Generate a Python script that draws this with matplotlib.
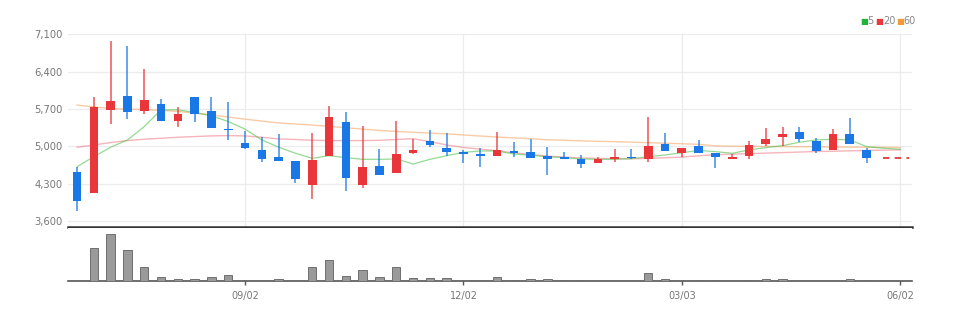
import numpy as np
import matplotlib
matplotlib.use("Agg")
import matplotlib.pyplot as plt

plt.rcParams['font.family'] = ['Liberation Sans Narrow', 'DejaVu Sans']

# weekly candles (price in won)
opens = [4530, 4120, 5673, 5936, 5662, 5800, 5474, 5917, 5662, 5330,
         5070, 4928, 4805, 4727, 4270, 4821, 5461, 4282, 4628, 4505,
         4884, 5103, 4977, 4903, 4853, 4827, 4915, 4903, 4827, 4808,
         4765, 4690, 4759, 4808, 4765, 5053, 4883, 5009, 4872, 4771,
         4827, 5053, 5179, 5273, 5109, 4934, 5235, 4928]
closes = [3980, 5740, 5850, 5649, 5861, 5474, 5598, 5611, 5353, 5300,
          4966, 4760, 4725, 4395, 4740, 5549, 4408, 4620, 4470, 4867,
          4941, 5028, 4897, 4865, 4827, 4934, 4883, 4784, 4759, 4771,
          4671, 4759, 4808, 4778, 5009, 4921, 4966, 4883, 4797, 4797,
          5034, 5141, 5241, 5141, 4915, 5235, 5047, 4784]
highs = [4610, 5920, 6965, 6876, 6451, 5890, 5737, 5920, 5925, 5840,
         5280, 5185, 5240, 4730, 5248, 5750, 5643, 5391, 4960, 5467,
         5147, 5305, 5248, 4934, 4966, 5273, 5080, 5141, 4990, 4897,
         4834, 4797, 4953, 4953, 5549, 5248, 4975, 5117, 4880, 4859,
         5110, 5348, 5373, 5361, 5165, 5329, 5541, 4966]
lows = [3790, 4120, 5417, 5511, 5598, 5470, 5361, 5461, 5353, 5120,
        4960, 4714, 4720, 4320, 4007, 4821, 4163, 4220, 4470, 4505,
        4859, 4996, 4827, 4695, 4620, 4827, 4797, 4780, 4464, 4759,
        4590, 4690, 4709, 4759, 4714, 4921, 4797, 4880, 4590, 4771,
        4759, 5009, 5009, 5085, 4883, 4934, 5047, 4684]
last_price = 4784

volumes = [0.3, 32.7, 47.0, 31.0, 14.0, 3.7, 2.0, 2.0, 3.7, 6.3,
           0.7, 0.7, 2.0, 1.0, 14.0, 21.3, 5.3, 11.3, 4.0, 14.0,
           2.7, 3.3, 2.7, 0.7, 0.7, 3.7, 1.3, 1.7, 2.3, 0.7,
           0.7, 0.2, 0.7, 0.7, 7.7, 1.7, 0.7, 0.7, 0.7, 0.2,
           0.7, 1.7, 1.7, 0.7, 0.7, 0.7, 2.3, 0.7]

ma5 = [4620, 4810, 4985, 5122, 5372, 5686, 5686, 5635, 5573, 5466,
       5323, 5122, 4985, 4872, 4778, 4827, 4790, 4759, 4759, 4765,
       4671, 4759, 4827, 4890, 4915, 4915, 4859, 4834, 4808, 4790,
       4765, 4759, 4759, 4771, 4808, 4840, 4883, 4925, 4903, 4872,
       4934, 4978, 5015, 5079, 5122, 5134, 5122, 4997, 4966, 4947]
ma20 = [4985, 5028, 5072, 5110, 5135, 5153, 5172, 5185, 5197, 5203,
        5197, 5172, 5141, 5130, 5115, 5110, 5110, 5110, 5115, 5130,
        5145, 5090, 5028, 4980, 4950, 4920, 4880, 4850, 4820, 4800,
        4785, 4775, 4770, 4770, 4775, 4790, 4800, 4825, 4845, 4855,
        4865, 4875, 4885, 4895, 4905, 4910, 4918, 4925, 4930, 4935]
ma60 = [5775, 5740, 5710, 5700, 5690, 5675, 5655, 5625, 5590, 5550,
        5510, 5475, 5440, 5420, 5400, 5375, 5350, 5325, 5300, 5280,
        5265, 5250, 5235, 5215, 5195, 5175, 5160, 5145, 5125, 5115,
        5105, 5095, 5090, 5080, 5070, 5060, 5050, 5040, 5010, 5005,
        5000, 5000, 4998, 4995, 4992, 4990, 4988, 4985, 4982, 4980]

price_ticks = [3600, 4300, 5000, 5700, 6400, 7100]
date_ticks = [10, 23, 36, 49]
date_labels = ['09/02', '12/02', '03/03', '06/02']

RED = '#e8363b'
BLUE = '#1a78e6'
GRID = '#ececec'
TXT = '#777777'


def draw_candles(ax):
    x = np.arange(len(opens))
    o = np.array(opens)
    c = np.array(closes)
    colors = [RED if cc >= oo else BLUE for oo, cc in zip(o, c)]
    ax.vlines(x, lows, highs, colors=colors, lw=1.1, alpha=0.85, zorder=3)
    body = np.maximum(np.abs(c - o), 25)
    ax.bar(x, body, bottom=np.minimum(o, c), width=0.52, color=colors,
           zorder=4, linewidth=0)
    ax.hlines(last_price, len(opens), len(opens) + 1.5, colors=RED,
              lw=1.3, linestyles=(0, (3.5, 3)), zorder=4)


def draw_ma(ax):
    x = np.arange(len(ma5))
    ax.plot(x, ma60, color='#f5a05a', lw=1.0, alpha=0.55, zorder=2)
    ax.plot(x, ma20, color='#ee6a78', lw=1.0, alpha=0.5, zorder=2)
    ax.plot(x, ma5, color='#4cc24c', lw=0.9, alpha=0.6, zorder=2)


def main():
    fig = plt.figure(figsize=(9.58, 3.15), dpi=100)
    ax = fig.add_axes([0.071, 0.279, 0.881, 0.614])
    axv = fig.add_axes([0.071, 0.108, 0.881, 0.168])

    draw_ma(ax)
    draw_candles(ax)

    xlim = (-0.54, 49.7)
    ax.set_xlim(*xlim)
    ax.set_ylim(3490, 7110)
    ax.set_yticks(price_ticks)
    ax.set_yticklabels([f'{p:,}' for p in price_ticks])
    ax.set_xticks(date_ticks)
    ax.tick_params(axis='x', length=0, labelbottom=False)
    ax.tick_params(axis='y', length=0, labelsize=7.2, colors=TXT, pad=4)
    ax.grid(True, color=GRID, lw=0.9, zorder=0)
    for s in ['top', 'right', 'left']:
        ax.spines[s].set_visible(False)
    ax.spines['bottom'].set_color('#333333')
    ax.spines['bottom'].set_linewidth(1.8)

    xv = np.arange(len(volumes))
    axv.bar(xv, volumes, width=0.5, color='#9a9a9a', edgecolor='#6f6f6f',
            linewidth=0.7, zorder=3)
    axv.set_xlim(*xlim)
    axv.set_ylim(0, 53)
    axv.set_yticks([])
    axv.set_xticks(date_ticks)
    axv.set_xticklabels(date_labels)
    axv.tick_params(axis='x', length=3, width=1, color='#555555',
                    labelsize=7, labelcolor=TXT, pad=4)
    for s in ['top', 'right', 'left']:
        axv.spines[s].set_visible(False)
    axv.spines['bottom'].set_color('#555555')
    axv.spines['bottom'].set_linewidth(1.2)

    # legend, top right
    legend = [('5', '#22b33a'), ('20', '#e83a3a'), ('60', '#f29a38')]
    xs = [0.898, 0.914, 0.936]
    for (lab, col), xp in zip(legend, xs):
        fig.text(xp, 0.933, '■', color=col, fontsize=6, va='center',
                 family='DejaVu Sans')
        fig.text(xp + 0.0075, 0.933, lab, color='#888888', fontsize=7,
                 va='center')

    fig.savefig('out.png', dpi=100)


if __name__ == "__main__":
    main()
